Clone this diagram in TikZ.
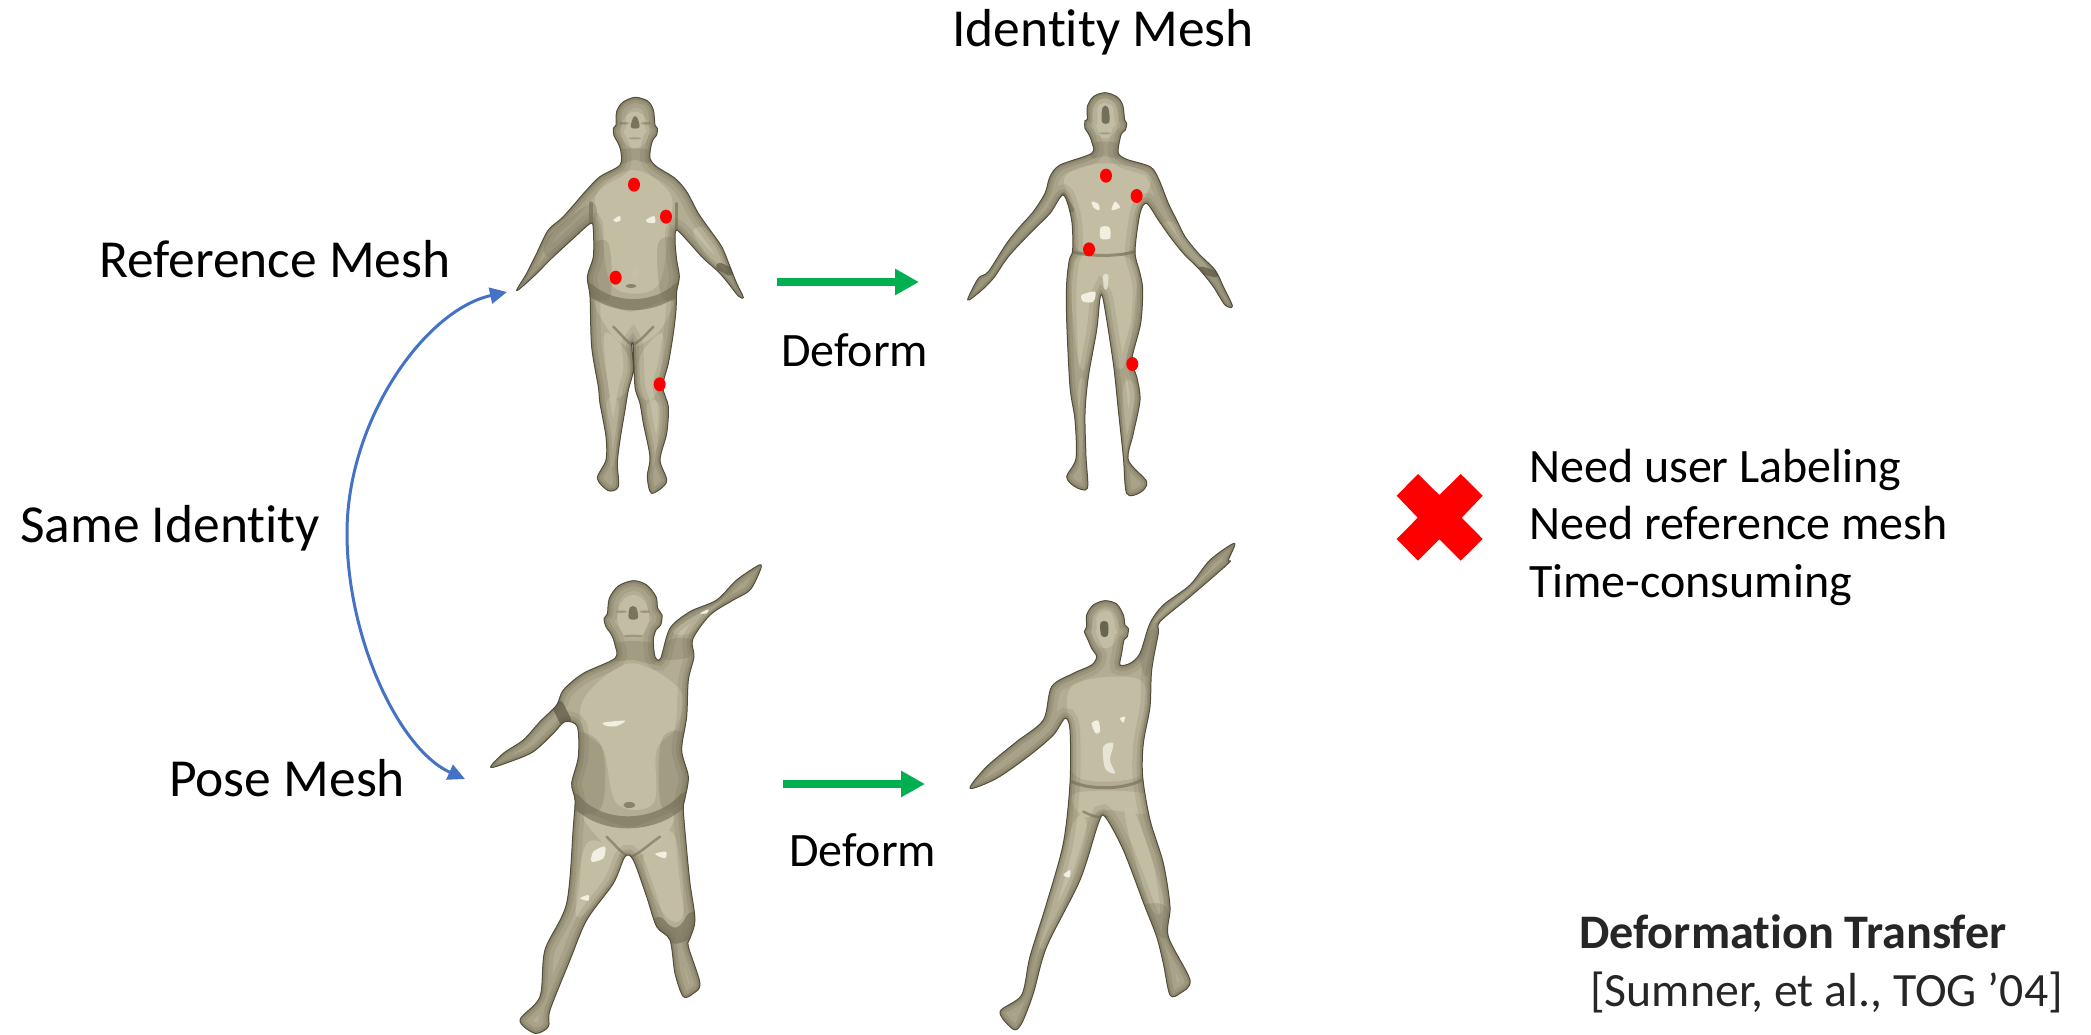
\documentclass[tikz,border=0pt]{standalone}
\usepackage{fontspec}
\setmainfont{Carlito}[Ligatures=NoCommon]
\usetikzlibrary{arrows.meta}
\definecolor{meshB}{HTML}{B3AD93}
\definecolor{meshL}{HTML}{C6C1A6}
\definecolor{meshD}{HTML}{6F6A52}
\definecolor{meshE}{HTML}{514E3C}
\definecolor{meshH}{HTML}{F1EFE2}
\definecolor{greenarrow}{HTML}{00B050}
\definecolor{bluearrow}{HTML}{4472C4}
\definecolor{inktext}{HTML}{262626}
\tikzset{
  label big/.style={font=\fontsize{53.5}{60}\selectfont,text=black,inner sep=0pt,anchor=base west},
  label mid/.style={font=\fontsize{48}{55}\selectfont,text=black,inner sep=0pt,anchor=base west},
  label need/.style={font=\fontsize{48}{57}\selectfont,text=black,inner sep=0pt,anchor=base west},
  label cite/.style={font=\fontsize{47.8}{57}\selectfont,text=inktext,inner sep=0pt,anchor=base west},
  deformarrow/.style={greenarrow,line width=8pt,-{Triangle[length=24pt,width=25pt]}},
  samearrow/.style={bluearrow,line width=3pt,{Triangle[length=17pt,width=16pt]}-{Triangle[length=17pt,width=16pt]}},
  mesh zoom/.style={x=.33333pt,y=-.33333pt},
  meshfill/.style={fill=meshB,draw=none},
  meshlight/.style={fill=meshL,draw=none,opacity=.85},
  meshdark/.style={fill=meshD,draw=none,opacity=.24},
  meshhigh/.style={fill=meshH,draw=none},
  meshedge/.style={draw=meshE,line width=1pt,line join=round},
  meshfold/.style={draw=meshD,line cap=round,opacity=.6},
  reddot/.style={fill=red,draw=none},
}
\newcommand{\edgeshade}[1]{%
  \draw[draw=meshD,line width=20pt,opacity=.16] #1;
  \draw[draw=meshD,line width=11pt,opacity=.22] #1;
  \draw[draw=meshD,line width=5pt,opacity=.35] #1;
}
\def\silA{plot[smooth cycle,tension=.5] coordinates {(465,82)(503,93)(520,120)(525,165)(532,175)(530,195)(520,207)(513,228)(510,265)(530,290)(585,325)(620,365)(655,430)(690,480)(725,530)(750,590)(770,640)(790,682)(775,678)(745,640)(715,605)(670,565)(625,515)(590,480)(585,510)(590,570)(598,620)(590,665)(588,720)(580,790)(565,880)(548,950)(565,1010)(560,1090)(540,1170)(560,1235)(515,1270)(502,1220)(510,1160)(490,1060)(480,1000)(465,950)(460,830)(455,825)(460,900)(445,960)(435,1020)(420,1110)(412,1180)(415,1250)(385,1262)(352,1225)(378,1170)(378,1100)(360,1000)(355,950)(335,830)(330,680)(322,620)(340,560)(340,480)(332,460)(280,505)(215,565)(160,620)(110,662)(140,610)(170,550)(205,480)(250,440)(320,360)(360,320)(420,285)(422,240)(412,215)(402,197)(400,175)(408,165)(410,125)(428,97)}}
\def\silB{plot[smooth cycle,tension=.5] coordinates {(465,68)(500,80)(518,105)(524,150)(530,160)(526,180)(515,190)(508,215)(505,250)(530,268)(600,290)(625,325)(655,400)(680,450)(705,500)(745,550)(795,600)(820,650)(847,708)(825,705)(790,650)(750,600)(700,550)(660,500)(625,450)(590,400)(570,430)(555,545)(570,610)(578,660)(572,760)(545,870)(560,920)(570,990)(550,1090)(535,1170)(590,1235)(570,1268)(530,1270)(520,1160)(505,1020)(490,880)(460,690)(450,685)(440,780)(415,920)(405,1030)(408,1160)(412,1255)(375,1250)(350,1220)(378,1165)(375,1050)(360,950)(350,750)(350,640)(358,570)(368,540)(365,450)(340,375)(300,430)(240,490)(175,560)(130,625)(90,665)(53,690)(85,625)(115,605)(170,520)(210,470)(250,425)(285,370)(300,320)(330,285)(425,250)(425,215)(415,190)(405,175)(405,152)(412,148)(412,110)(430,80)}}
\def\silC{plot[smooth cycle,tension=.5] coordinates {(490,92)(530,105)(558,140)(563,175)(576,195)(572,225)(558,240)(550,270)(555,320)(572,325)(600,235)(660,185)(740,150)(800,90)(868,45)(870,62)(840,120)(790,150)(720,195)(668,268)(672,320)(655,390)(650,500)(635,600)(655,680)(645,745)(640,780)(650,900)(660,1000)(675,1110)(660,1165)(655,1190)(690,1300)(670,1330)(640,1340)(615,1270)(600,1170)(560,1130)(530,1040)(490,930)(465,920)(430,1000)(350,1110)(300,1230)(240,1380)(235,1430)(195,1450)(150,1410)(210,1340)(225,1200)(290,1060)(310,830)(315,750)(305,700)(325,620)(322,530)(285,515)(250,550)(190,605)(120,635)(62,652)(100,610)(160,570)(210,515)(260,465)(280,420)(340,370)(435,325)(435,285)(425,255)(408,230)(402,205)(412,192)(418,145)(445,108)}}
\def\silD{plot[smooth cycle,tension=.5] coordinates {(465,212)(500,222)(520,255)(525,285)(535,295)(532,320)(522,330)(515,370)(510,405)(540,400)(570,370)(600,280)(640,225)(720,165)(780,90)(853,40)(835,90)(840,95)(790,140)(720,200)(630,275)(625,310)(605,420)(600,530)(580,640)(578,740)(600,870)(640,1000)(660,1130)(655,1220)(720,1350)(690,1390)(660,1395)(640,1300)(620,1220)(585,1130)(520,960)(465,860)(445,880)(390,1050)(290,1250)(250,1390)(215,1480)(190,1498)(150,1445)(215,1395)(240,1280)(290,1120)(340,940)(360,760)(360,600)(345,565)(310,615)(240,675)(140,745)(60,775)(110,710)(200,635)(280,570)(305,470)(370,430)(425,405)(440,380)(425,355)(412,325)(403,305)(410,290)(410,255)(430,225)}}
\begin{document}
\begin{tikzpicture}[x=1pt,y=-1pt]
\useasboundingbox (0,0) rectangle (2091,1034);

% ---------- reference mesh
\begin{scope}[shift={(480,70)},mesh zoom]
  \fill[meshfill] \silA;
  \begin{scope}
    \clip \silA;
    \fill[meshlight] plot[smooth cycle,tension=.6] coordinates {(350,370)(460,300)(570,370)(565,480)(530,650)(400,650)(365,480)};
    \fill[meshlight] plot[smooth cycle,tension=.6] coordinates {(345,690)(450,725)(575,690)(540,780)(470,830)(440,830)(385,780)};
    \fill[meshlight] plot[smooth cycle,tension=.6] coordinates {(375,790)(445,860)(440,960)(400,985)(385,950)};
    \fill[meshlight] plot[smooth cycle,tension=.6] coordinates {(545,790)(480,860)(480,970)(520,985)(545,880)};
    \fill[meshlight] plot[smooth cycle,tension=.6] coordinates {(380,1000)(415,1000)(405,1170)(390,1170)};
    \fill[meshlight] plot[smooth cycle,tension=.6] coordinates {(500,1010)(540,1010)(525,1170)(512,1170)};
    \fill[meshlight] (465,180) ellipse (42 and 55);
    \fill[meshlight] plot[smooth cycle,tension=.6] coordinates {(640,490)(685,480)(740,590)(715,600)};
    \fill[meshdark] plot[smooth cycle,tension=.6] coordinates {(325,540)(385,520)(390,680)(330,670)};
    \fill[meshdark] plot[smooth cycle,tension=.6] coordinates {(535,520)(600,520)(600,670)(545,680)};
    \fill[meshdark] plot[smooth cycle,tension=.6] coordinates {(205,500)(335,400)(335,470)(210,560)};
    \fill[meshdark] plot[smooth cycle,tension=.6] coordinates {(415,240)(510,240)(510,280)(465,270)(420,280)};
    \edgeshade{\silA}
    \draw[meshfold,line width=11pt] (325,655) .. controls (400,720) and (520,720) .. (595,655);
    \draw[meshfold,line width=2.5pt] (400,770) .. controls (430,800) and (440,815) .. (457,825) .. controls (480,815) and (500,790) .. (520,770);
    \draw[meshfold,line width=4pt] (333,400) -- (333,470);
    \draw[meshfold,line width=3pt] (590,400) -- (590,490);
    \draw[meshfold,line width=8pt,meshE] (720,590) -- (750,605);
    \fill[meshE,opacity=.65] plot[smooth cycle,tension=.6] coordinates {(460,142)(471,142)(478,172)(453,172)};
    \fill[meshD,opacity=.45] (432,160) ellipse (16 and 4) (498,160) ellipse (16 and 4);
    \fill[meshD,opacity=.4] (465,205) ellipse (20 and 3);
    \fill[meshD,opacity=.7] (453,648) ellipse (16 and 6);
  \end{scope}
  \fill[meshhigh] plot[smooth cycle,tension=.5] coordinates {(400,450)(418,438)(422,450)(410,456)};
  \fill[meshhigh] plot[smooth cycle,tension=.5] coordinates {(498,450)(522,438)(525,458)(505,458)};
  \fill[meshL] (452,600) -- (478,588) -- (475,625) -- (455,618) -- cycle;
  \draw[meshedge] \silA;
  \fill[reddot] (462,344) ellipse (18 and 21);
  \fill[reddot] (558,440) ellipse (18 and 21);
  \fill[reddot] (407,623) ellipse (18 and 21);
  \fill[reddot] (539,943) ellipse (18 and 21);
\end{scope}

% ---------- identity mesh
\begin{scope}[shift={(950,70)},mesh zoom]
  \fill[meshfill] \silB;
  \begin{scope}
    \clip \silB;
    \fill[meshlight] plot[smooth cycle,tension=.6] coordinates {(345,320)(465,280)(600,320)(560,430)(545,540)(385,540)(375,430)};
    \fill[meshlight] plot[smooth cycle,tension=.6] coordinates {(375,570)(545,570)(555,700)(525,880)(490,870)(460,680)(440,780)(400,900)(375,800)};
    \fill[meshlight] plot[smooth cycle,tension=.6] coordinates {(385,950)(405,950)(395,1160)(385,1160)};
    \fill[meshlight] plot[smooth cycle,tension=.6] coordinates {(520,950)(555,960)(530,1160)(520,1160)};
    \fill[meshlight] (465,145) ellipse (40 and 60);
    \fill[meshlight] plot[smooth cycle,tension=.6] coordinates {(640,470)(690,470)(770,590)(750,600)};
    \fill[meshdark] plot[smooth cycle,tension=.6] coordinates {(425,220)(505,220)(505,265)(465,258)(425,265)};
    \edgeshade{\silB}
    \draw[meshfold,line width=3pt] (365,545) .. controls (420,560) and (500,560) .. (555,545);
    \draw[meshfold,line width=5pt] (340,375) -- (365,420);
    \draw[meshfold,line width=7pt,meshE] (755,600) -- (795,612);
    \fill[meshE,opacity=.7] plot[smooth cycle,tension=.6] coordinates {(458,112)(474,112)(478,156)(456,156)};
    \fill[meshD,opacity=.4] (465,190) ellipse (18 and 3);
  \end{scope}
  \fill[meshhigh] plot[smooth cycle,tension=.5] coordinates {(425,395)(445,402)(448,420)(432,414)};
  \fill[meshhigh] plot[smooth cycle,tension=.5] coordinates {(495,395)(510,412)(485,420)};
  \fill[meshhigh] plot[smooth cycle,tension=.5] coordinates {(452,472)(478,472)(480,505)(452,505)};
  \fill[meshhigh] plot[smooth cycle,tension=.5] coordinates {(395,675)(435,665)(430,695)(400,695)};
  \fill[meshhigh,opacity=.7] plot[smooth cycle,tension=.5] coordinates {(460,615)(475,615)(472,655)(462,655)};
  \draw[meshedge] \silB;
  \fill[reddot] (468,317) ellipse (18 and 21);
  \fill[reddot] (560,378) ellipse (18 and 21);
  \fill[reddot] (417,538) ellipse (18 and 21);
  \fill[reddot] (547,882) ellipse (18 and 21);
\end{scope}

% ---------- pose mesh
\begin{scope}[shift={(470,550)},mesh zoom]
  \fill[meshfill] \silC;
  \begin{scope}
    \clip \silC;
    \fill[meshlight] plot[smooth cycle,tension=.6] coordinates {(345,440)(480,340)(630,420)(620,530)(560,600)(550,760)(440,760)(400,600)(340,540)};
    \fill[meshlight] plot[smooth cycle,tension=.6] coordinates {(340,790)(480,830)(610,790)(570,880)(480,920)(400,880)};
    \fill[meshlight] plot[smooth cycle,tension=.6] coordinates {(350,880)(450,920)(420,1000)(320,1100)};
    \fill[meshlight] plot[smooth cycle,tension=.6] coordinates {(520,920)(610,850)(640,1090)(580,1090)};
    \fill[meshlight] plot[smooth cycle,tension=.6] coordinates {(610,240)(740,160)(780,130)(720,190)(660,250)};
    \fill[meshlight] (490,200) ellipse (48 and 65);
    \fill[meshdark] plot[smooth cycle,tension=.6] coordinates {(310,560)(395,590)(395,770)(310,770)};
    \fill[meshdark] plot[smooth cycle,tension=.6] coordinates {(575,570)(650,560)(650,730)(575,770)};
    \fill[meshdark] plot[smooth cycle,tension=.6] coordinates {(430,280)(550,280)(555,340)(490,330)(430,330)};
    \fill[meshdark] plot[smooth cycle,tension=.6] coordinates {(575,325)(600,270)(665,270)(660,320)};
    \edgeshade{\silC}
    \draw[meshfold,line width=12pt] (315,750) .. controls (390,840) and (560,840) .. (645,745);
    \draw[meshfold,line width=2.5pt] (410,860) .. controls (440,890) and (460,915) .. (480,922) .. controls (510,910) and (540,880) .. (570,860);
    \draw[meshfold,line width=16pt] (565,1125) .. controls (600,1170) and (640,1170) .. (670,1110);
    \draw[meshfold,line width=12pt,meshE] (265,470) -- (285,510);
    \fill[meshE,opacity=.65] plot[smooth cycle,tension=.6] coordinates {(480,172)(498,172)(503,205)(477,205)};
    \fill[meshD,opacity=.45] (455,185) ellipse (16 and 4) (525,185) ellipse (16 and 4) (490,258) ellipse (28 and 4);
    \fill[meshD,opacity=.7] (478,765) ellipse (18 and 9);
  \end{scope}
  \fill[meshhigh] plot[smooth cycle,tension=.5] coordinates {(400,518)(465,512)(440,528)(410,528)};
  \fill[meshhigh] plot[smooth cycle,tension=.5] coordinates {(370,905)(405,890)(400,925)(365,935)};
  \fill[meshhigh] plot[smooth cycle,tension=.5] coordinates {(555,912)(588,905)(585,925)};
  \fill[meshhigh] plot[smooth cycle,tension=.5] coordinates {(330,1045)(355,1035)(355,1052)};
  \fill[meshhigh] plot[smooth cycle,tension=.5] coordinates {(690,190)(715,178)(710,190)};
  \draw[meshedge] \silC;
\end{scope}

% ---------- deformed pose mesh
\begin{scope}[shift={(950,530)},mesh zoom]
  \fill[meshfill] \silD;
  \begin{scope}
    \clip \silD;
    \fill[meshlight] plot[smooth cycle,tension=.6] coordinates {(365,470)(520,440)(590,480)(570,640)(565,740)(380,740)(360,600)};
    \fill[meshlight] plot[smooth cycle,tension=.6] coordinates {(375,790)(580,790)(590,850)(470,840)(400,860)};
    \fill[meshlight] plot[smooth cycle,tension=.6] coordinates {(370,880)(410,900)(350,1100)(290,1250)(270,1200)};
    \fill[meshlight] plot[smooth cycle,tension=.6] coordinates {(525,860)(560,860)(640,1110)(600,1130)};
    \fill[meshlight] plot[smooth cycle,tension=.6] coordinates {(610,270)(720,170)(770,130)(720,190)(630,270)};
    \fill[meshlight] (465,295) ellipse (40 and 60);
    \fill[meshdark] plot[smooth cycle,tension=.6] coordinates {(580,1130)(650,1130)(655,1220)(620,1210)};
    \fill[meshdark] plot[smooth cycle,tension=.6] coordinates {(570,370)(605,300)(620,320)(590,440)};
    \edgeshade{\silD}
    \draw[meshfold,line width=3pt] (365,755) .. controls (420,780) and (520,780) .. (575,750);
    \draw[meshfold,line width=2.5pt] (400,845) .. controls (430,860) and (450,865) .. (470,860);
    \fill[meshE,opacity=.8] plot[smooth cycle,tension=.6] coordinates {(452,278)(473,278)(473,316)(454,316)};
  \end{scope}
  \fill[meshhigh] plot[smooth cycle,tension=.5] coordinates {(425,580)(445,572)(450,605)(437,610)};
  \fill[meshhigh] plot[smooth cycle,tension=.5] coordinates {(510,565)(525,560)(520,578)};
  \fill[meshhigh,opacity=.8] plot[smooth cycle,tension=.5] coordinates {(460,650)(490,640)(480,690)(495,730)(465,715)};
  \fill[meshhigh] plot[smooth cycle,tension=.5] coordinates {(340,1035)(360,1020)(358,1042)};
  \draw[meshedge] \silD;
\end{scope}

% ---------- labels
\node[label big] (identity) at (952,46) {Identity Mesh};
\node[label big] (reference) at (99,277) {Reference Mesh};
\node[label big] (same) at (20,542) {Same Identity};
\node[label big] (pose) at (169,796) {Pose Mesh};
\node[label mid] (deformtop) at (781,366.5) {Deform};
\node[label mid] (deformbottom) at (789,866.5) {Deform};
\node[label need] (needa) at (1529,482) {Need user Labeling};
\node[label need] (needb) at (1529,539) {Need reference mesh};
\node[label need] (needc) at (1529,597) {Time-consuming};
\node[label cite,font=\fontsize{48.2}{57}\selectfont\bfseries] (citea) at (1579,948) {Deformation Transfer};
\node[label cite] (citeb) at (1590,1006) {[Sumner, et al., TOG ’04]};

% ---------- connectors
\coordinate (deformtopfrom) at (777,282);
\coordinate (deformtopto) at (919,282);
\coordinate (deformbottomfrom) at (783,784);
\coordinate (deformbottomto) at (925,784);
\draw[deformarrow] (deformtopfrom) -- (deformtopto);
\draw[deformarrow] (deformbottomfrom) -- (deformbottomto);
\coordinate (sametop) at (507,292);
\coordinate (sameleft) at (347,533);
\coordinate (samebottom) at (465,779);
\draw[samearrow] (samebottom) .. controls (400,750) and (347,640) .. (sameleft) .. controls (347,420) and (425,310) .. (sametop);

% ---------- red cross
\fill[red] (1439.3,495) -- (1460.7,474) -- (1482.7,495.7) -- (1461.7,517.7) -- (1482.7,539) -- (1460.7,560.7) -- (1439.3,539.3) -- (1418,560.7) -- (1396.7,539) -- (1417.7,517.7) -- (1396.7,495.7) -- (1418,474) -- cycle;
\end{tikzpicture}
\end{document}
